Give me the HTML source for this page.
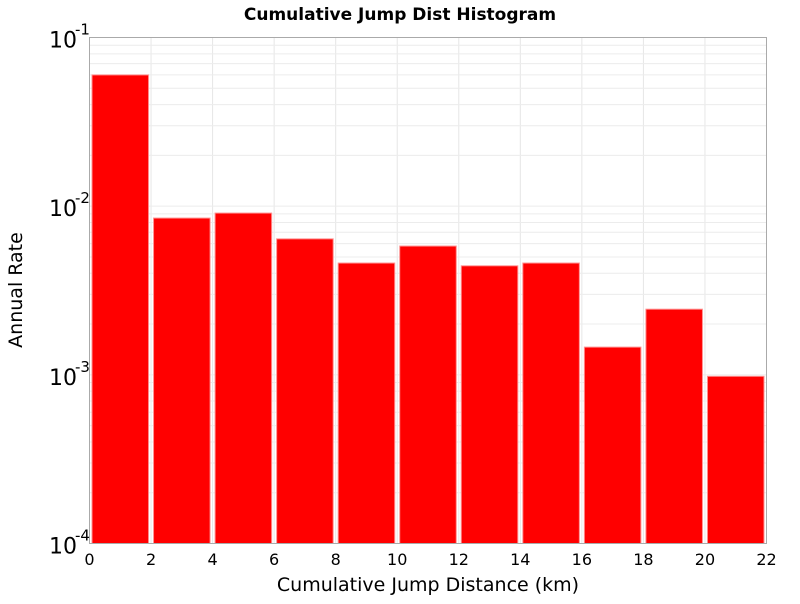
<!DOCTYPE html>
<html><head><meta charset="utf-8"><style>
body{margin:0;background:#fff;font-family:"DejaVu Sans","Liberation Sans",sans-serif}
</style></head><body>
<svg id="chart" width="800" height="600" xmlns="http://www.w3.org/2000/svg" font-family="DejaVu Sans, Liberation Sans, sans-serif">
<text x="400" y="20" text-anchor="middle" font-size="17" font-weight="bold">Cumulative Jump Dist Histogram</text>
<g id="grid"></g>
<g id="bars"></g>
<rect x="89.5" y="37.5" width="677" height="506" fill="none" stroke="#aaa" stroke-width="1"/>
<g id="xticks"></g>
<g id="yticks"></g>
<text x="428" y="591" text-anchor="middle" font-size="19">Cumulative Jump Distance (km)</text>
<text transform="translate(22,290) rotate(-90)" text-anchor="middle" font-size="19">Annual Rate</text>
</svg>
<script>
const binStarts=[0,2,4,6,8,10,12,14,16,18,20];
const rates=[0.06,0.0085,0.0091,0.0064,0.0046,0.0058,0.00443,0.0046,0.00146,0.00245,0.00098];
const xTicks=[0,2,4,6,8,10,12,14,16,18,20,22];
const yExps=[-4,-3,-2,-1];
const binWidth=2;
const L=89.5,R=766.5,T=37.5,B=543.5;
const NS="http://www.w3.org/2000/svg";
const xs=v=>L+(v-0)/(22-0)*(R-L);
const ys=v=>B-(Math.log10(v)-(-4))/3*(B-T);
function mk(t,a,p){const e=document.createElementNS(NS,t);for(const k in a)e.setAttribute(k,a[k]);p.appendChild(e);return e;}
const grid=document.getElementById('grid');
xTicks.forEach(t=>{const l=mk('line',{x1:xs(t),x2:xs(t),y1:T,y2:B,stroke:'#e6e6e6'},grid);

});
for(let e=-4;e<-1;e++)for(let m=1;m<10;m++){const y=ys(m*Math.pow(10,e));
const l=mk('line',{x1:L,x2:R,y1:y,y2:y,stroke:'#ececec'},grid);

}
const bars=document.getElementById('bars');
binStarts.forEach((s,i)=>{const x0=xs(s)+2.5,x1=xs(s+binWidth)-2.5,y=ys(rates[i]);
const r=mk('rect',{x:x0,y:y,width:x1-x0,height:B-y,fill:'#ff0000',stroke:'#ff9090','stroke-width':1},bars);

});
const xt=document.getElementById('xticks');
xTicks.forEach(t=>{const e=mk('text',{x:xs(t),y:565,'text-anchor':'middle','font-size':16},xt);e.textContent=t;

});
const yt=document.getElementById('yticks');
yExps.forEach(ex=>{const y=ys(Math.pow(10,ex));
const e=mk('text',{x:49,y:y+10,'font-size':22},yt);e.textContent='10';


const s=mk('text',{x:75,y:y-3,'font-size':15},yt);s.textContent=String(ex);

});
</script>
</body></html>
